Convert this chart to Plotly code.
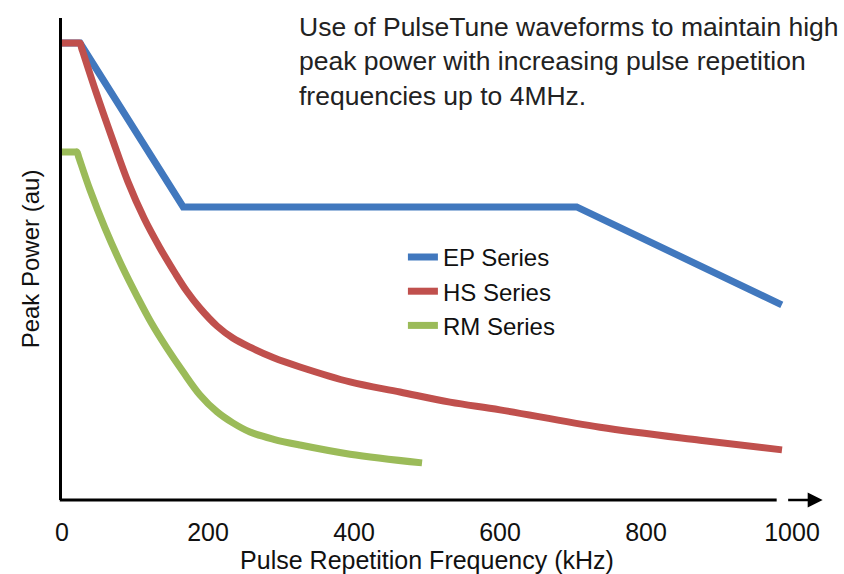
import plotly.graph_objects as go

# Data (x in kHz, y in arbitrary units 0-100)
ep_x = [0, 24.7, 166, 705, 986]
ep_y = [94.8, 94.8, 60.8, 60.8, 40.5]

hs_x = [0, 22.0, 24.7, 27.0, 46.6, 68.5, 90.4, 112.3, 134.2, 154.8, 171.0, 189.0, 212.3, 234.0,
        257.5, 290.0, 326.0, 394.5, 463.0, 531.5, 600.0, 737.0, 874.0, 986.3]
hs_y = [94.8, 94.8, 94.8, 93.7, 84.6, 75.1, 66.0, 58.5, 52.3, 47.1, 43.3, 39.8, 36.1, 33.6,
        31.7, 29.5, 27.6, 24.5, 22.4, 20.3, 18.7, 15.1, 12.4, 10.4]

rm_x = [0, 18.0, 20.5, 23.0, 38.4, 58.9, 82.2, 104.1, 123.3, 143.8, 165.8, 189.0, 212.3, 234.0,
        257.5, 290.0, 326.0, 394.5, 493.2]
rm_y = [72.2, 72.2, 72.2, 71.1, 64.3, 56.4, 48.5, 41.9, 36.5, 31.5, 26.6, 21.8, 18.3, 16.0,
        14.1, 12.6, 11.4, 9.5, 7.7]

x_ticks = [0, 200, 400, 600, 800, 1000]

FONT = "Liberation Sans, Arial, sans-serif"

fig = go.Figure()
fig.add_trace(go.Scatter(x=ep_x, y=ep_y, mode="lines", name="EP Series",
                         line=dict(color="#4178BE", width=7)))
fig.add_trace(go.Scatter(x=hs_x, y=hs_y, mode="lines", name="HS Series",
                         line=dict(color="#C0504D", width=7, shape="spline", smoothing=1)))
fig.add_trace(go.Scatter(x=rm_x, y=rm_y, mode="lines", name="RM Series",
                         line=dict(color="#9BBB59", width=7, shape="spline", smoothing=1)))

fig.update_layout(
    width=844, height=574,
    margin=dict(l=62, r=52, t=18, b=74, autoexpand=False),
    paper_bgcolor="white", plot_bgcolor="white",
    font=dict(family=FONT, color="#111111", size=24),
    showlegend=True,
    legend=dict(x=0.467, y=0.55, xanchor="left", yanchor="top",
                font=dict(size=24, family=FONT, color="#111111"),
                bgcolor="rgba(0,0,0,0)"),
    xaxis=dict(range=[0, 1000], tickvals=x_ticks, ticktext=[str(t) for t in x_ticks],
               showgrid=False, zeroline=False, showline=False, ticks="",
               automargin=False,
               tickfont=dict(size=25), ticklabelstandoff=15,
               title=dict(text="Pulse Repetition Frequency (kHz)", font=dict(size=25), standoff=3)),
    yaxis=dict(range=[0, 100], showgrid=False, zeroline=False, showticklabels=False,
               automargin=False,
               ticks="", showline=True, linecolor="black", linewidth=3,
               title=dict(text="Peak Power (au)", font=dict(size=24), standoff=13)),
)

# x-axis line with arrow
fig.add_shape(type="line", xref="paper", yref="paper", x0=-0.003, x1=0.979, y0=0, y1=0,
              line=dict(color="black", width=3))
fig.add_annotation(xref="paper", yref="paper", x=1.042, y=0, ax=-36, ay=0,
                   showarrow=True, arrowhead=2, arrowsize=1.2, arrowwidth=2.5,
                   arrowcolor="black", text="", standoff=0, startstandoff=0)

fig.add_annotation(xref="paper", yref="paper", x=0.322, y=1.017, xanchor="left", yanchor="top",
                   align="left", showarrow=False,
                   text="Use of PulseTune waveforms to maintain high<br>peak power with increasing pulse repetition<br>frequencies up to 4MHz.",
                   font=dict(size=26.5, family=FONT, color="#222222"))

fig.write_html("out.html", config={"displayModeBar": False},
               post_script="document.body.style.margin='0';")
